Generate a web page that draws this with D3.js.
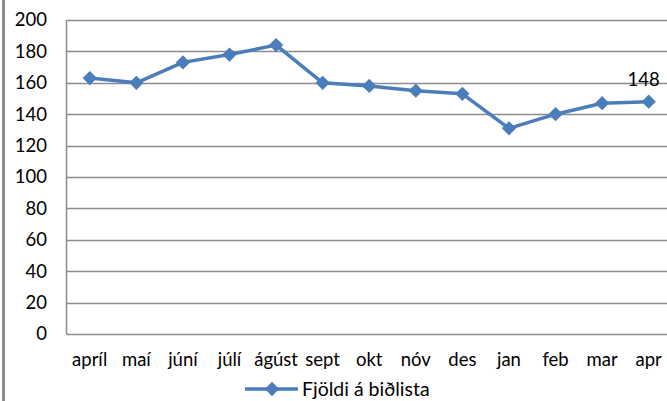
<!DOCTYPE html>
<html>
<head>
<meta charset="utf-8">
<script src="https://cdn.jsdelivr.net/npm/d3@7"></script>
<style>
    body { margin: 0; background: #fff; }
    svg { display: block; font-family: Lato, 'Open Sans', sans-serif; }
    .axis text { font-size: 18.5px; fill: #000; }
</style>
</head>
<body>
<svg id="chart"></svg>
<script>
const months = ['apríl', 'maí', 'júní', 'júlí', 'ágúst', 'sept', 'okt', 'nóv', 'des', 'jan', 'feb', 'mar', 'apr'];
const waiting = [163, 160, 173, 178, 184, 160, 158, 155, 153, 131, 140, 147, 148];
const yTicks = [0, 20, 40, 60, 80, 100, 120, 140, 160, 180, 200];
const seriesName = 'Fjöldi á biðlista';

const width = 667, height = 401;
const marginLeft = 66.5, marginTop = 20, plotBottom = 334;
const plotRight = 672;
const blue = '#4a7ebb';

const svg = d3.select('#chart').attr('width', width).attr('height', height);

// Gray frame edge on the left.
svg.append('rect').attr('x', 2).attr('y', 0).attr('width', 3).attr('height', height).attr('fill', '#8c8c8c');

const x = d3.scaleBand().domain(months).range([marginLeft, plotRight]);
const y = d3.scaleLinear().domain([0, 200]).range([plotBottom, marginTop]);

// Gridlines.
svg.append('g')
    .selectAll('line')
    .data(yTicks)
    .join('line')
    .attr('x1', marginLeft)
    .attr('x2', plotRight)
    .attr('y1', d => Math.round(y(d)) + 0.5)
    .attr('y2', d => Math.round(y(d)) + 0.5)
    .attr('stroke', '#8c8c8c')
    .attr('stroke-width', 1.5);

// Left axis line.
svg.append('line')
    .attr('x1', marginLeft).attr('x2', marginLeft)
    .attr('y1', y(200)).attr('y2', y(0) + 0.5)
    .attr('stroke', '#8c8c8c').attr('stroke-width', 1.5);

// Y tick labels.
svg.append('g')
    .attr('class', 'axis')
    .selectAll('text')
    .data(yTicks)
    .join('text')
    .attr('x', 47)
    .attr('y', d => y(d))
    .attr('dy', '0.35em')
    .attr('text-anchor', 'end')
    .text(d => d);

// X tick labels.
svg.append('g')
    .attr('class', 'axis')
    .selectAll('text')
    .data(months)
    .join('text')
    .attr('x', d => x(d) + x.bandwidth() / 2)
    .attr('y', 366)
    .attr('text-anchor', 'middle')
    .text(d => d);

const points = months.map((m, i) => ({ month: m, value: waiting[i] }));

const line = d3.line()
    .x(d => x(d.month) + x.bandwidth() / 2)
    .y(d => y(d.value));

svg.append('path')
    .datum(points)
    .attr('fill', 'none')
    .attr('stroke', blue)
    .attr('stroke-width', 3.5)
    .attr('stroke-linejoin', 'round')
    .attr('d', line);

const diamond = d3.symbol().type(d3.symbolDiamond2).size(130);

svg.append('g')
    .selectAll('path')
    .data(points)
    .join('path')
    .attr('transform', d => `translate(${x(d.month) + x.bandwidth() / 2}, ${y(d.value)})`)
    .attr('d', diamond)
    .attr('fill', blue);

// Data label on the last point.
const last = points[points.length - 1];
svg.append('text')
    .attr('x', x(last.month) + x.bandwidth() / 2 - 5)
    .attr('y', y(last.value) - 16)
    .attr('text-anchor', 'middle')
    .style('font-size', '18.5px')
    .text(last.value);

// Legend.
const legend = svg.append('g').attr('transform', 'translate(245, 389)');
legend.append('line').attr('x1', 0).attr('x2', 53).attr('stroke', blue).attr('stroke-width', 3.5);
legend.append('path').attr('d', diamond).attr('transform', 'translate(27, 0)').attr('fill', blue);
legend.append('text')
    .attr('x', 57)
    .attr('dy', '0.35em')
    .style('font-size', '19.5px')
    .text(seriesName);
</script>
</body>
</html>
